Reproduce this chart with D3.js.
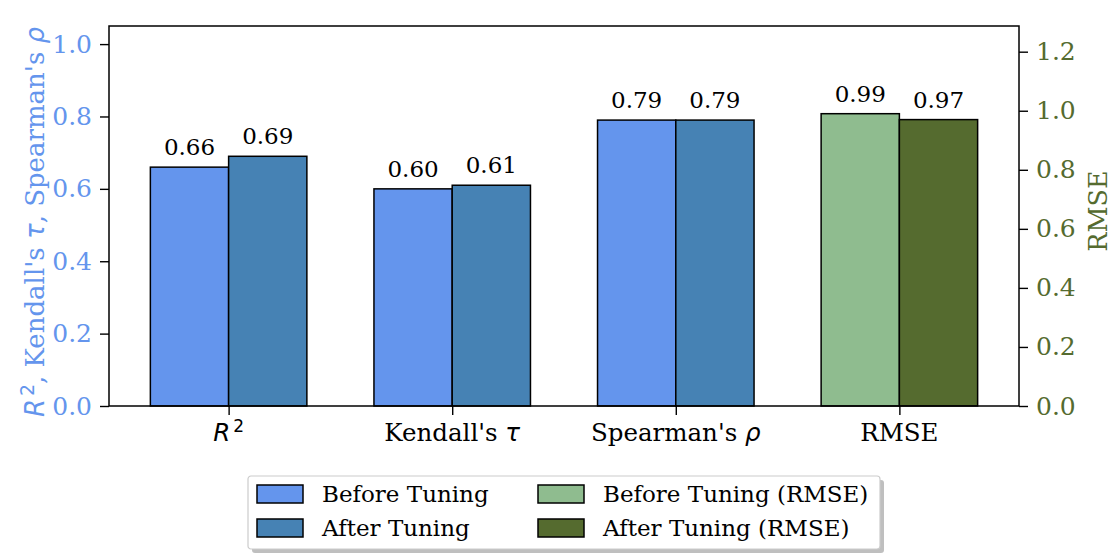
<!DOCTYPE html>
<html>
<head>
<meta charset="utf-8">
<script src="https://cdn.jsdelivr.net/npm/d3@7"></script>
<style>
  body { margin: 0; background: #fff; }
  svg text { font-family: "DejaVu Serif", serif; }
  .math { font-family: "DejaVu Sans", sans-serif; font-style: italic; }
</style>
</head>
<body>
<div id="chart"></div>
<script>
// ------- Data -------
const metrics = ["R2", "Kendall", "Spearman", "RMSE"];
const beforeScores = [0.66, 0.60, 0.79];
const afterScores = [0.69, 0.61, 0.79];
const beforeRmse = 0.99;
const afterRmse = 0.97;
const leftTicks = [0.0, 0.2, 0.4, 0.6, 0.8, 1.0];
const rightTicks = [0.0, 0.2, 0.4, 0.6, 0.8, 1.0, 1.2];
const legendLabels = ["Before Tuning", "After Tuning", "Before Tuning (RMSE)", "After Tuning (RMSE)"];

const colors = {
  before: "#6495ED",
  after: "#4682B4",
  beforeRmse: "#8FBC8F",
  afterRmse: "#556B2F"
};

const width = 1113, height = 556;
const margin = {left: 109, right: 94, top: 26, bottom: 150};
const plotW = width - margin.left - margin.right;
const plotH = height - margin.top - margin.bottom;
const barW = 0.35;

const svg = d3.select("#chart").append("svg")
  .attr("width", width)
  .attr("height", height);

const g = svg.append("g")
  .attr("transform", `translate(${margin.left},${margin.top})`);

// x is a linear scale over the category index, like matplotlib
const xScale = d3.scaleLinear()
  .domain([-0.535, 3.535])
  .range([0, plotW]);

const yLeft = d3.scaleLinear().domain([0, 1.05]).range([plotH, 0]);
const yRight = d3.scaleLinear().domain([0, 1.287]).range([plotH, 0]);

// rows for all bars
let bars = [];
beforeScores.forEach((v, i) => bars.push({i: i, off: -barW, v: v, fill: colors.before, s: yLeft}));
afterScores.forEach((v, i) => bars.push({i: i, off: 0, v: v, fill: colors.after, s: yLeft}));
bars.push({i: 3, off: -barW, v: beforeRmse, fill: colors.beforeRmse, s: yRight});
bars.push({i: 3, off: 0, v: afterRmse, fill: colors.afterRmse, s: yRight});

g.selectAll("rect.bar")
  .data(bars)
  .enter()
  .append("rect")
  .attr("class", "bar")
  .attr("x", d => xScale(d.i + d.off))
  .attr("y", d => d.s(d.v))
  .attr("width", d => xScale(barW) - xScale(0))
  .attr("height", d => plotH - d.s(d.v))
  .attr("fill", d => d.fill)
  .attr("stroke", "#000")
  .attr("stroke-width", 1.5);

g.selectAll("text.val")
  .data(bars)
  .enter()
  .append("text")
  .attr("class", "val")
  .attr("x", d => xScale(d.i + d.off + barW / 2))
  .attr("y", d => d.s(d.v) - 12)
  .attr("text-anchor", "middle")
  .attr("font-size", 23)
  .text(d => d.v.toFixed(2));

// ------- Axes -------
const leftAxis = g.append("g")
  .call(d3.axisLeft(yLeft).tickValues(leftTicks).tickFormat(d3.format(".1f")).tickSize(9).tickPadding(8));
leftAxis.selectAll("text").attr("fill", colors.before).attr("font-size", 25).style("font-family", "DejaVu Serif");

const rightAxis = g.append("g")
  .attr("transform", `translate(${plotW},0)`)
  .call(d3.axisRight(yRight).tickValues(rightTicks).tickFormat(d3.format(".1f")).tickSize(9).tickPadding(8));
rightAxis.selectAll("text").attr("fill", colors.afterRmse).attr("font-size", 25).style("font-family", "DejaVu Serif");

const bottomAxis = g.append("g")
  .attr("transform", `translate(0,${plotH})`)
  .call(d3.axisBottom(xScale).tickValues([0, 1, 2, 3]).tickFormat("").tickSize(9));

[leftAxis, rightAxis, bottomAxis].forEach(a => {
  a.select(".domain").remove();
  a.selectAll("line").attr("stroke", "#000").attr("stroke-width", 1.4);
});

// x tick labels with math parts
const xt = g.append("g").attr("font-size", 24.5);
const tickY = plotH + 35;
let t = xt.append("text").attr("x", xScale(0)).attr("y", tickY).attr("text-anchor", "middle");
t.append("tspan").attr("class", "math").text("R");
t.append("tspan").attr("font-family", "DejaVu Sans").attr("font-size", 17).attr("dy", -9).attr("dx", 3).text("2");
t = xt.append("text").attr("x", xScale(1)).attr("y", tickY).attr("text-anchor", "middle");
t.append("tspan").text("Kendall's ");
t.append("tspan").attr("class", "math").text("τ");
t = xt.append("text").attr("x", xScale(2)).attr("y", tickY).attr("text-anchor", "middle");
t.append("tspan").text("Spearman's ");
t.append("tspan").attr("class", "math").text("ρ");
xt.append("text").attr("x", xScale(3)).attr("y", tickY).attr("text-anchor", "middle").text("RMSE");

// frame
g.append("rect")
  .attr("width", plotW)
  .attr("height", plotH)
  .attr("fill", "none")
  .attr("stroke", "#000")
  .attr("stroke-width", 1.5);

// axis labels
const yl = svg.append("text")
  .attr("transform", `translate(44,${margin.top + plotH / 2 + 6}) rotate(-90)`)
  .attr("text-anchor", "middle")
  .attr("font-size", 26)
  .attr("fill", colors.before);
yl.append("tspan").attr("class", "math").text("R");
yl.append("tspan").attr("font-family", "DejaVu Sans").attr("font-size", 19).attr("dy", -10).attr("dx", 3).text("2");
yl.append("tspan").attr("dy", 10).text(", Kendall's ");
yl.append("tspan").attr("class", "math").text("τ");
yl.append("tspan").text(", Spearman's ");
yl.append("tspan").attr("class", "math").text("ρ");

svg.append("text")
  .attr("transform", `translate(1107,211) rotate(-90)`)
  .attr("text-anchor", "middle")
  .attr("font-size", 25.5)
  .attr("fill", colors.afterRmse)
  .text("RMSE");

// ------- Legend -------
const legend = svg.append("g").attr("transform", "translate(248,476)");
legend.append("rect")
  .attr("x", 4).attr("y", 4)
  .attr("width", 632).attr("height", 73)
  .attr("rx", 3)
  .attr("fill", "#7f7f7f").attr("opacity", 0.5);
legend.append("rect")
  .attr("width", 632).attr("height", 73)
  .attr("rx", 3)
  .attr("fill", "#fff")
  .attr("stroke", "#ccc")
  .attr("stroke-width", 1.2);

const legendColors = [colors.before, colors.after, colors.beforeRmse, colors.afterRmse];
const items = legend.selectAll("g.item")
  .data(legendLabels)
  .enter()
  .append("g")
  .attr("class", "item")
  .attr("transform", (d, i) => `translate(${i < 2 ? 9 : 290},${i % 2 === 0 ? 9 : 43})`);

items.append("rect")
  .attr("width", 46).attr("height", 18)
  .attr("fill", (d, i) => legendColors[i])
  .attr("stroke", "#000")
  .attr("stroke-width", 1.5);

items.append("text")
  .attr("x", 65).attr("y", 17)
  .attr("font-size", 23)
  .text(d => d);
</script>
</body>
</html>
